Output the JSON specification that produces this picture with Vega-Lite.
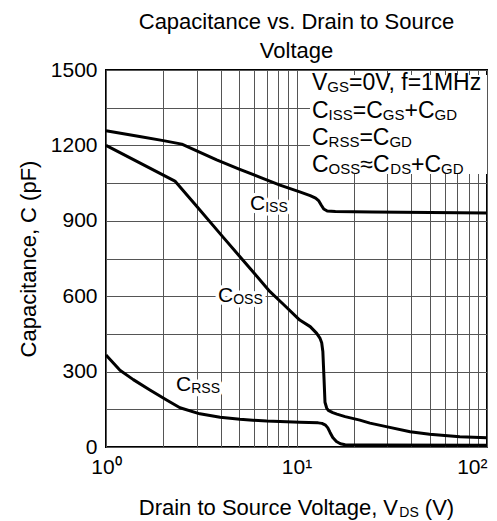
{
  "$schema": "https://vega.github.io/schema/vega-lite/v6.json",
  "width": 381,
  "height": 377,
  "autosize": {"type": "none"},
  "padding": {"left": 106, "top": 70, "right": 10, "bottom": 74},
  "background": "white",
  "config": {
    "font": "Liberation Sans",
    "view": {"stroke": "black", "strokeWidth": 2}
  },
  "title": {
    "text": ["Capacitance vs. Drain to Source", "Voltage"],
    "fontSize": 22,
    "fontWeight": "normal",
    "font": "Liberation Sans",
    "color": "black",
    "lineHeight": 29,
    "anchor": "middle",
    "offset": -4
  },
  "datasets": {
    "curves": [
      {"curve": "Ciss", "v": 1, "c": 1258},
      {"curve": "Ciss", "v": 1.5, "c": 1235},
      {"curve": "Ciss", "v": 2, "c": 1219},
      {"curve": "Ciss", "v": 2.5, "c": 1205},
      {"curve": "Ciss", "v": 3.81, "c": 1142},
      {"curve": "Ciss", "v": 5, "c": 1106},
      {"curve": "Ciss", "v": 6.5, "c": 1072},
      {"curve": "Ciss", "v": 8.19, "c": 1042},
      {"curve": "Ciss", "v": 10.4, "c": 1015},
      {"curve": "Ciss", "v": 11.8, "c": 1000},
      {"curve": "Ciss", "v": 12.6, "c": 990},
      {"curve": "Ciss", "v": 13.1, "c": 979},
      {"curve": "Ciss", "v": 13.5, "c": 962},
      {"curve": "Ciss", "v": 13.9, "c": 947},
      {"curve": "Ciss", "v": 14.5, "c": 939},
      {"curve": "Ciss", "v": 16, "c": 937},
      {"curve": "Ciss", "v": 25, "c": 935},
      {"curve": "Ciss", "v": 50, "c": 933},
      {"curve": "Ciss", "v": 100, "c": 931},
      {"curve": "Coss", "v": 1, "c": 1200},
      {"curve": "Coss", "v": 2.3, "c": 1058},
      {"curve": "Coss", "v": 3, "c": 957},
      {"curve": "Coss", "v": 4, "c": 846},
      {"curve": "Coss", "v": 5.05, "c": 757},
      {"curve": "Coss", "v": 6, "c": 691},
      {"curve": "Coss", "v": 7.26, "c": 618},
      {"curve": "Coss", "v": 8.5, "c": 569},
      {"curve": "Coss", "v": 10.4, "c": 505},
      {"curve": "Coss", "v": 11.8, "c": 479},
      {"curve": "Coss", "v": 12.77, "c": 452},
      {"curve": "Coss", "v": 13.3, "c": 432},
      {"curve": "Coss", "v": 13.56, "c": 415},
      {"curve": "Coss", "v": 13.75, "c": 380},
      {"curve": "Coss", "v": 13.95, "c": 270},
      {"curve": "Coss", "v": 14.11, "c": 178},
      {"curve": "Coss", "v": 14.4, "c": 155},
      {"curve": "Coss", "v": 14.69, "c": 146},
      {"curve": "Coss", "v": 15.5, "c": 137},
      {"curve": "Coss", "v": 16.3, "c": 131},
      {"curve": "Coss", "v": 18, "c": 121},
      {"curve": "Coss", "v": 21.5, "c": 107},
      {"curve": "Coss", "v": 24.3, "c": 95},
      {"curve": "Coss", "v": 30, "c": 80},
      {"curve": "Coss", "v": 39.5, "c": 61},
      {"curve": "Coss", "v": 50, "c": 51},
      {"curve": "Coss", "v": 72, "c": 41},
      {"curve": "Coss", "v": 100, "c": 37},
      {"curve": "Crss", "v": 1, "c": 366},
      {"curve": "Crss", "v": 1.184, "c": 305},
      {"curve": "Crss", "v": 1.391, "c": 268},
      {"curve": "Crss", "v": 1.7, "c": 227},
      {"curve": "Crss", "v": 2.08, "c": 187},
      {"curve": "Crss", "v": 2.445, "c": 156},
      {"curve": "Crss", "v": 3.11, "c": 132},
      {"curve": "Crss", "v": 3.97, "c": 118},
      {"curve": "Crss", "v": 5.05, "c": 110},
      {"curve": "Crss", "v": 6.98, "c": 103},
      {"curve": "Crss", "v": 10.4, "c": 98},
      {"curve": "Crss", "v": 13.0, "c": 96},
      {"curve": "Crss", "v": 13.6, "c": 94},
      {"curve": "Crss", "v": 14.2, "c": 87},
      {"curve": "Crss", "v": 14.6, "c": 76},
      {"curve": "Crss", "v": 15.0, "c": 58},
      {"curve": "Crss", "v": 15.5, "c": 38},
      {"curve": "Crss", "v": 16.2, "c": 22},
      {"curve": "Crss", "v": 17.0, "c": 13},
      {"curve": "Crss", "v": 18, "c": 9},
      {"curve": "Crss", "v": 25, "c": 8},
      {"curve": "Crss", "v": 100, "c": 7}
    ],
    "box": [
      {"v": 11.77, "v2": 100, "c": 1086, "c2": 1480}
    ],
    "texts": [
      {"t": "C", "v": 5.70, "c": 943, "k": "lab"},
      {"t": "ISS", "v": 6.85, "c": 943, "k": "labsub"},
      {"t": "C", "v": 3.87, "c": 577, "k": "lab"},
      {"t": "OSS", "v": 4.65, "c": 577, "k": "labsub"},
      {"t": "C", "v": 2.33, "c": 223, "k": "lab"},
      {"t": "RSS", "v": 2.80, "c": 223, "k": "labsub"},
      {"t": "V", "v": 12.06, "c": 1420, "k": "box"},
      {"t": "GS", "v": 14.51, "c": 1420, "k": "boxsub"},
      {"t": "=0V, f=1MHz", "v": 18.87, "c": 1420, "k": "box"},
      {"t": "C", "v": 12.06, "c": 1309, "k": "box"},
      {"t": "ISS", "v": 14.74, "c": 1309, "k": "boxsub"},
      {"t": "=C", "v": 19.75, "c": 1309, "k": "box"},
      {"t": "GS", "v": 28.38, "c": 1309, "k": "boxsub"},
      {"t": "+C", "v": 36.89, "c": 1309, "k": "box"},
      {"t": "GD", "v": 53.02, "c": 1309, "k": "boxsub"},
      {"t": "C", "v": 12.06, "c": 1202, "k": "box"},
      {"t": "RSS", "v": 14.74, "c": 1202, "k": "boxsub"},
      {"t": "=C", "v": 21.39, "c": 1202, "k": "box"},
      {"t": "GD", "v": 30.74, "c": 1202, "k": "boxsub"},
      {"t": "C", "v": 12.06, "c": 1094, "k": "box"},
      {"t": "OSS", "v": 14.74, "c": 1094, "k": "boxsub"},
      {"t": "≈C", "v": 21.62, "c": 1094, "k": "box"},
      {"t": "DS", "v": 31.08, "c": 1094, "k": "boxsub"},
      {"t": "+C", "v": 39.96, "c": 1094, "k": "box"},
      {"t": "GD", "v": 57.42, "c": 1094, "k": "boxsub"},
      {"t": "Drain to Source Voltage, V", "v": 1.486, "c": -270.6, "k": "ax"},
      {"t": "DS", "v": 34.64, "c": -270.6, "k": "axsub"},
      {"t": "(V)", "v": 47.16, "c": -270.6, "k": "ax"}
    ]
  },
  "encoding": {
    "x": {
      "field": "v",
      "type": "quantitative",
      "scale": {"type": "log", "domain": [1, 100], "nice": false},
      "axis": {
        "values": [1, 2, 3, 4, 5, 6, 7, 8, 9, 10, 20, 30, 40, 50, 60, 70, 80, 90, 100],
        "labelExpr": "datum.value == 1 ? '10⁰' : datum.value == 10 ? '10¹' : datum.value == 100 ? '10²' : ''",
        "grid": true,
        "gridColor": "#555555",
        "gridWidth": 1,
        "ticks": false,
        "domain": false,
        "labelFontSize": 21,
        "labelColor": "black",
        "labelPadding": 26,
        "labelBaseline": "alphabetic",
        "labelDx": 5,
        "labelAlign": {"condition": {"test": "datum.value == 100", "value": "right"}, "value": "center"},
        "labelOverlap": false,
        "labelBound": false,
        "labelFlush": false,
        "title": null
      }
    },
    "y": {
      "field": "c",
      "type": "quantitative",
      "scale": {"domain": [0, 1500], "nice": false, "zero": false},
      "axis": {
        "values": [0, 150, 300, 450, 600, 750, 900, 1050, 1200, 1350, 1500],
        "format": "d",
        "labelExpr": "datum.value % 300 === 0 ? datum.label : ''",
        "grid": true,
        "gridColor": "#555555",
        "gridWidth": 1,
        "ticks": false,
        "domain": false,
        "labelFontSize": 21,
        "labelColor": "black",
        "labelPadding": 9,
        "labelOverlap": false,
        "labelFlush": false,
        "title": "Capacitance, C (pF)",
        "titleFontSize": 22,
        "titleFontWeight": "normal",
        "titleColor": "black",
        "titlePadding": 10
      }
    }
  },
  "layer": [
    {
      "data": {"name": "box"},
      "mark": {"type": "rect", "fill": "white"},
      "encoding": {
        "x2": {"field": "v2"},
        "y2": {"field": "c2"}
      }
    },
    {
      "data": {"name": "texts"},
      "transform": [{"filter": "datum.k == 'lab'"}],
      "mark": {"type": "text", "align": "left", "baseline": "alphabetic", "fontSize": 21, "fill": "white", "stroke": "white", "strokeWidth": 7, "strokeJoin": "round"},
      "encoding": {"text": {"field": "t"}}
    },
    {
      "data": {"name": "texts"},
      "transform": [{"filter": "datum.k == 'labsub'"}],
      "mark": {"type": "text", "align": "left", "baseline": "alphabetic", "fontSize": 14, "dy": 2, "fill": "white", "stroke": "white", "strokeWidth": 7, "strokeJoin": "round"},
      "encoding": {"text": {"field": "t"}}
    },
    {
      "data": {"name": "curves"},
      "mark": {"type": "line", "color": "black", "strokeWidth": 3, "interpolate": "linear", "strokeJoin": "round", "strokeCap": "butt"},
      "encoding": {
        "detail": {"field": "curve"}
      }
    },
    {
      "data": {"name": "texts"},
      "transform": [{"filter": "datum.k == 'lab'"}],
      "mark": {"type": "text", "align": "left", "baseline": "alphabetic", "fontSize": 21, "color": "black"},
      "encoding": {"text": {"field": "t"}}
    },
    {
      "data": {"name": "texts"},
      "transform": [{"filter": "datum.k == 'labsub'"}],
      "mark": {"type": "text", "align": "left", "baseline": "alphabetic", "fontSize": 14, "dy": 2, "color": "black"},
      "encoding": {"text": {"field": "t"}}
    },
    {
      "data": {"name": "texts"},
      "transform": [{"filter": "datum.k == 'box'"}],
      "mark": {"type": "text", "align": "left", "baseline": "alphabetic", "fontSize": 23, "color": "black"},
      "encoding": {"text": {"field": "t"}}
    },
    {
      "data": {"name": "texts"},
      "transform": [{"filter": "datum.k == 'boxsub'"}],
      "mark": {"type": "text", "align": "left", "baseline": "alphabetic", "fontSize": 15, "dy": 2, "color": "black"},
      "encoding": {"text": {"field": "t"}}
    },
    {
      "data": {"name": "texts"},
      "transform": [{"filter": "datum.k == 'ax'"}],
      "mark": {"type": "text", "align": "left", "baseline": "alphabetic", "fontSize": 22, "color": "black"},
      "encoding": {"text": {"field": "t"}}
    },
    {
      "data": {"name": "texts"},
      "transform": [{"filter": "datum.k == 'axsub'"}],
      "mark": {"type": "text", "align": "left", "baseline": "alphabetic", "fontSize": 14, "dy": 2, "color": "black"},
      "encoding": {"text": {"field": "t"}}
    }
  ]
}
